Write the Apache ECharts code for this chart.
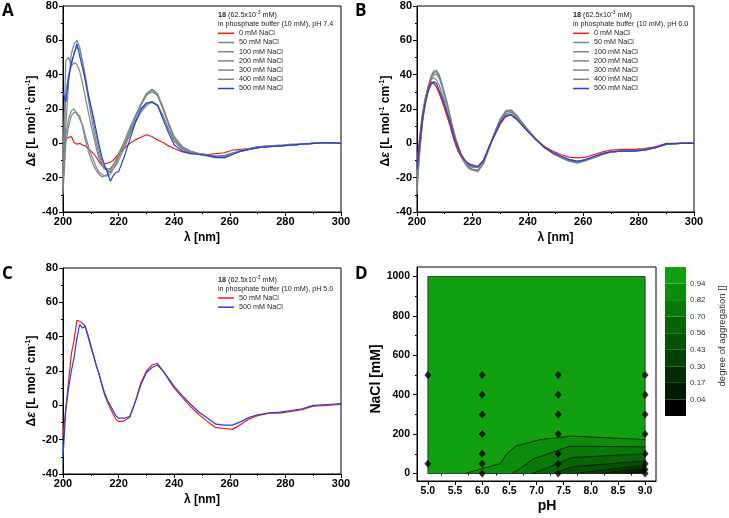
<!DOCTYPE html>
<html><head><meta charset="utf-8">
<script src="https://cdn.jsdelivr.net/npm/echarts@6/dist/echarts.min.js"></script>
<style>html,body{margin:0;padding:0;background:#fff}#c{width:729px;height:518px}</style>
</head><body><div id="c"></div>
<script>
// ---------- DATA ----------
const lambda = [200,201,202,203,204,205,206,207,208,209,210,211,212,213,214,215,216,217,218,219,220,222,224,226,228,230,232,234,236,238,240,243,246,249,252,255,258,261,264,267,270,274,278,282,286,290,295,300];

// Panel A, pH 7.4
const aRed0    = [4,2.5,3.5,4,0.5,-0.5,0,-1,-1.5,-3,-4.5,-6,-8,-11,-13,-12,-11.5,-11,-10,-8,-6,-3,0,2,3.5,5,4,2,0.5,-1.5,-3,-5,-6,-6,-6.5,-6,-5.5,-4,-3.5,-3,-2,-1.5,-1.5,-1,-0.5,0,0,0];
const aG50     = [-25,5,14,19,20,17,16,10,2,-4,-9,-13,-16,-18,-19.5,-19,-18,-16,-13,-10,-7,-1,6,13,19,23,24.5,22,16,8,1,-3.5,-5.5,-6.5,-7,-7.5,-7,-5.5,-4.5,-3.5,-2.5,-2,-1.5,-1,-0.5,0,0.5,0];
const aG100    = [-30,0,10,16,18,18,14,11,5,-1,-6,-10,-14,-17,-18,-19,-19,-18,-15,-12,-8,-1,7,15,22,28,31,28,20,11,3,-2.5,-5,-6.5,-7.5,-8.5,-8,-6,-4.5,-3.5,-2.5,-2,-1.5,-1,-0.5,0,0.5,0];
const aG200    = [-20,30,40,45,47,46,42,35,27,19,11,4,-3,-9,-13,-15,-16,-15,-13,-10,-6,1,9,16,23,29,31.5,29,21,12,4,-2,-4.5,-6,-7,-8,-7.5,-6,-4,-3,-2,-1.5,-1,-1,-0.5,0,0.5,0];
const aG300    = [-15,10,35,52,58,60,56,47,37,27,17,8,0,-7,-12,-14,-15,-14.5,-13,-10,-7,-1,7,15,22,28,30,28,20,11,3,-2.5,-5,-6,-7,-7.5,-8,-6,-4.5,-3,-2.5,-2,-1.5,-0.5,-0.5,0,0.5,0];
const aG400    = [-10,48,50,45,53,56,55,48,40,30,21,12,4,-4,-10,-14,-16,-17,-15,-13,-10,-3,5,12,18,22,24,22.5,16,8,1.5,-3,-5.5,-6.5,-7,-8,-8,-6,-4.5,-3.5,-2.5,-2,-1.5,-1,-0.5,0,0.5,0];
const aBlue500 = [30,24,38,47,52,58,51,44,37,29,22,15,7,-1,-8,-13,-17,-22,-19,-17,-16.5,-8,2,12,20,23.5,24,22,14,6,-1,-4.5,-6,-6.5,-7,-8,-8.5,-6.5,-4.5,-3.5,-2.5,-2,-1.5,-1,-0.5,0,0.5,0];

// Panel B, pH 6.0
const bRed0    = [-12,3,16,24,31,36,35,33,29,25,20,15,10,4,-1,-5,-7.5,-9.5,-11,-12,-12.5,-13.5,-10,-2,4.5,11,15.5,16.5,14,10.5,7,2,-2,-4.5,-6.5,-8,-8.5,-8,-6.5,-5,-4,-3.5,-3.5,-3,-2,0,0,0];
const bG50     = [-20,-2,14,25,33,38,41,42,39,34,28,22,15,8,2,-3,-7,-10,-12.5,-14,-15,-15.5,-11,-3,6,13,18,19,16,12,8,2.5,-2,-5.5,-8,-10,-11,-10,-8,-6.5,-5,-4.5,-4.5,-4,-2.5,-0.5,0,0];
const bG100    = [-25,-5,12,24,33,39,42,42.5,40,35,29,23,16,9,3,-2,-6.5,-10,-12.5,-14.5,-15.5,-16.5,-12,-3.5,6,14,19,19.5,16.5,12,8,2.5,-2.5,-6,-8.5,-10.5,-11.5,-10,-8.5,-6.5,-5,-4.5,-4,-4,-2.5,-0.5,0,0.5];
const bG200    = [-15,2,16,26,33,37,38,37,34,29,24,18,12,6,1,-4,-8,-10.5,-12.5,-13.5,-14,-14,-10,-2.5,6,13,17,18,15,11,7.5,2,-2,-5.5,-8,-9.5,-10.5,-9.5,-8,-6,-5,-4.5,-4.5,-3.5,-2.5,-0.5,0,0];
const bG300    = [-30,-3,13,24,32,37,40,40.5,38,33,27,21,14,8,2,-3,-7.5,-11,-13.5,-15,-15.5,-16,-11.5,-3,6,14,18.5,19,16,11.5,8,2.5,-2,-5.5,-8,-10,-11,-10,-8,-6.5,-5,-4.5,-4.5,-4,-2.5,-0.5,0,0];
const bG400    = [-12,4,18,27,32,35,35,33,30,26,21,16,10,4,-1,-5,-8,-10.5,-12,-13,-13.5,-14,-10,-2.5,5.5,12.5,16.5,17,14.5,11,7.5,2,-2,-5,-7.5,-9.5,-10.5,-9.5,-7.5,-6,-5,-4.5,-4,-4,-2.5,-0.5,0,0];
const bBlue500 = [-15,0,14,23,30,34,36,35,31,27,22,17,12,6,1,-3,-6.5,-9,-11,-12.5,-13,-13.5,-10,-2,5,12,16,16.5,14,10.5,7,2,-2.5,-5.5,-7.5,-9.5,-10.5,-9.5,-7.5,-6,-5,-4.5,-4.5,-4,-2.5,-0.5,0,0];

// Panel C, pH 5.0
const cRed50   = [-18,-2,14,30,38,49.5,49,48,46,41,35,29,23,18,12,6,2,-1.5,-5,-8,-9.5,-9,-7,2,13,20,23.5,24.5,20,15,10,4.5,-1,-5.5,-9.5,-13,-13.5,-14,-11,-8,-6,-4.5,-4.5,-3.5,-2.5,-0.5,0,0.5];
const cBlue500 = [-30,-3,10,20,28,39,47,45,46,40,34,29,23,18,12,7,3,0,-3,-6,-7.5,-7.5,-6.5,2,12,19,22,23.5,20,15.5,11,5.5,0.5,-4,-7.5,-11,-11.5,-11.5,-9.5,-7,-5.5,-4.5,-4,-3,-2,0,0.5,1];

const legendNamesAB = ['0 mM NaCl','50 mM NaCl','100 mM NaCl','200 mM NaCl','300 mM NaCl','400 mM NaCl','500 mM NaCl'];
const legendNamesC = ['50 mM NaCl','500 mM NaCl'];

// Panel D: contour lines (pH, NaCl mM), from level 0.94 downwards
const contour1 = [[5.69,0],[6.0,25],[6.33,50],[6.45,100],[6.62,140],[7.07,172],[7.4,182],[7.65,190],[9.0,172]];
const contour2 = [[6.55,0],[6.75,35],[6.95,76],[7.32,110],[7.62,139],[9.0,135]];
const contour3 = [[6.92,0],[7.32,42],[7.65,81],[9.0,101]];
const contour4 = [[7.32,0],[7.65,34],[9.0,64]];
const contour5 = [[7.68,0],[9.0,42]];
const contour6 = [[8.17,0],[9.0,30]];
const contour7 = [[8.54,0],[9.0,20]];
const contour8 = [[8.79,0],[9.0,10]];
const measuredPoints = [[5,50],[5,500],[6,0],[6,50],[6,100],[6,200],[6,300],[6,400],[6,500],[7.4,0],[7.4,50],[7.4,100],[7.4,200],[7.4,300],[7.4,400],[7.4,500],[9,0],[9,20],[9,50],[9,100],[9,200],[9,300],[9,400],[9,500]];
const phTicks = [5,5.5,6,6.5,7,7.5,8,8.5,9];
const phMinor = [5.25,5.75,6.25,6.75,7.25,7.75,8.25,8.75];
const naclTicks = [0,200,400,600,800,1000];
const naclMinor = [100,300,500,700,900];
const cbLevels = ['0.04','0.17','0.30','0.43','0.56','0.70','0.82','0.94'];
const bandColors = ['#000000','#011a01','#022d02','#034003','#055205','#066406','#087808','#0b8c0b','#10a010'];

// ---------- STYLE ----------
const FONT = 'Liberation Sans, Arial, sans-serif';
const RED = '#f01c1c', GRAY = '#7b8787', BLUE = '#2040e8';

function cdX(i, gridIndex) {
  return {gridIndex, type:'value', min:200, max:300, interval:20,
    axisLine:{onZero:false, lineStyle:{color:'#000', width:1}},
    axisTick:{length:4, lineStyle:{color:'#000'}},
    minorTick:{show:true, splitNumber:2, length:2, lineStyle:{color:'#000'}},
    splitLine:{show:false},
    axisLabel:{color:'#000', fontWeight:'bold', fontSize:11, fontFamily:FONT, margin:4},
    name:'λ [nm]', nameLocation:'middle', nameGap:20,
    nameTextStyle:{color:'#000', fontWeight:'bold', fontSize:12, fontFamily:FONT}};
}
function cdY(gridIndex, shift) {
  return {gridIndex, type:'value', min:-40, max:80, interval:20,
    axisLine:{onZero:false, lineStyle:{color:'#000', width:1}},
    axisTick:{length:4, lineStyle:{color:'#000'}},
    minorTick:{show:true, splitNumber:2, length:2, lineStyle:{color:'#000'}},
    splitLine:{show:false},
    axisLabel:{color:'#000', fontWeight:'bold', fontSize:11, fontFamily:FONT, margin:5},
    name:'Δ{it|ε} [L mol{sup|-1} cm{sup|-1}]', nameLocation:'middle', nameGap:24,
    nameTextStyle:{color:'#000', fontWeight:'bold', fontSize:12, fontFamily:FONT, lineHeight:14, padding:[0,shift,0,0],
      rich:{it:{fontStyle:'italic', fontWeight:'bold', fontSize:12, fontFamily:FONT, lineHeight:14},
            sup:{fontSize:7, fontWeight:'bold', fontFamily:FONT, verticalAlign:'top', lineHeight:14}}}};
}
function cdSeries(prefix, name, vals, color, idx) {
  return {type:'line', name: prefix + '|' + name, xAxisIndex:idx, yAxisIndex:idx,
    data: lambda.map((x,i)=>[x, vals[i]]), symbol:'none', showSymbol:false,
    lineStyle:{color, width:1.2}, itemStyle:{color}, silent:true};
}
function legendFor(prefix, names, left, top) {
  return {left, top, orient:'vertical', padding:0, itemGap:0.2, itemWidth:16, itemHeight:1.5, icon:'rect',
    data: names.map(n=>prefix+'|'+n), formatter: n=>n.split('|')[1], selectedMode:false,
    textStyle:{fontSize:7.2, lineHeight:9, color:'#222', fontFamily:FONT}};
}
function header(ph, left, top) {
  return {text:'{b|18} (62.5x10{s|-3} mM)\nin phosphate buffer (10 mM), pH ' + ph, left, top, padding:0,
    textStyle:{fontSize:7.2, lineHeight:9, color:'#222', fontWeight:'normal', fontFamily:FONT,
      rich:{b:{fontWeight:'bold', fontSize:7.2, lineHeight:9, fontFamily:FONT, color:'#222'},
            s:{fontSize:5, verticalAlign:'top', lineHeight:9, fontFamily:FONT, color:'#222'}}}};
}
function letter(t, left, top) {
  return {text:t, left, top, padding:0, textStyle:{fontFamily:'Open Sans', fontWeight:'bold', fontSize:17, color:'#000'}};
}

const series = [];
series.push(cdSeries('A','0 mM NaCl', aRed0, RED, 0));
series.push(cdSeries('A','50 mM NaCl', aG50, GRAY, 0));
series.push(cdSeries('A','100 mM NaCl', aG100, GRAY, 0));
series.push(cdSeries('A','200 mM NaCl', aG200, GRAY, 0));
series.push(cdSeries('A','300 mM NaCl', aG300, GRAY, 0));
series.push(cdSeries('A','400 mM NaCl', aG400, GRAY, 0));
series.push(cdSeries('A','500 mM NaCl', aBlue500, BLUE, 0));
series.push(cdSeries('B','50 mM NaCl', bG50, GRAY, 1));
series.push(cdSeries('B','100 mM NaCl', bG100, GRAY, 1));
series.push(cdSeries('B','200 mM NaCl', bG200, GRAY, 1));
series.push(cdSeries('B','300 mM NaCl', bG300, GRAY, 1));
series.push(cdSeries('B','400 mM NaCl', bG400, GRAY, 1));
series.push(cdSeries('B','0 mM NaCl', bRed0, RED, 1));
series.push(cdSeries('B','500 mM NaCl', bBlue500, BLUE, 1));
series.push(cdSeries('C','50 mM NaCl', cRed50, RED, 2));
series.push(cdSeries('C','500 mM NaCl', cBlue500, BLUE, 2));

// Panel D
series.push({type:'line', xAxisIndex:3, yAxisIndex:3, data:[[5,1000],[9,1000]], symbol:'none', silent:true, z:1,
  lineStyle:{width:0}, areaStyle:{color:bandColors[8], opacity:1}});
[contour1,contour2,contour3,contour4,contour5,contour6,contour7,contour8].forEach((c,k)=>{
  series.push({type:'line', xAxisIndex:3, yAxisIndex:3, data:c, symbol:'none', silent:true, z:2,
    lineStyle:{color:'#111', width:0.8}, areaStyle:{color:bandColors[7-k], opacity:1}});
});
series.push({type:'line', xAxisIndex:3, yAxisIndex:3, data:[[5,0],[5,1000],[9,1000],[9,0],[5,0]], symbol:'none', silent:true, z:3,
  lineStyle:{color:'#222', width:0.8}});
series.push({type:'scatter', xAxisIndex:3, yAxisIndex:3, data:measuredPoints, symbol:'diamond', symbolSize:[7,8], silent:true, z:10,
  clip:false, itemStyle:{color:'#000'}});
// colorbar
bandColors.forEach((col,i)=>{
  series.push({type:'bar', xAxisIndex:5, yAxisIndex:5, stack:'cb', data:[1], barWidth:'100%', silent:true, itemStyle:{color:col}});
});

const option = {
  animation:false,
  backgroundColor:'#fff',
  title:[letter('A',2,3), letter('B',355,3), letter('C',2,266), letter('D',355,266),
         header('7.4',218,10.5), header('6.0',573,10.5), header('5.0',218,275.2)],
  legend:[legendFor('A', legendNamesAB, 218, 28.8), legendFor('B', legendNamesAB, 573, 28.8), legendFor('C', legendNamesC, 218, 293.5)],
  grid:[
    {left:63, top:6, width:278, height:206, show:true, borderColor:'#000', borderWidth:1},
    {left:417, top:6, width:277, height:206, show:true, borderColor:'#000', borderWidth:1},
    {left:63, top:268, width:278, height:206, show:true, borderColor:'#000', borderWidth:1},
    {left:417, top:267, width:239, height:214, show:true, borderColor:'#000', borderWidth:1},
    {left:665, top:267, width:21, height:149}
  ],
  xAxis:[cdX(0,0), cdX(1,1), cdX(2,2),
    {gridIndex:3, type:'value', min:4.8, max:9.2,
      axisLine:{onZero:false, lineStyle:{color:'#000'}},
      axisTick:{customValues:phTicks, length:4, lineStyle:{color:'#000'}},
      axisLabel:{customValues:phTicks, formatter:v=>v.toFixed(1), fontWeight:'bold', fontSize:10.5, color:'#000', fontFamily:FONT, margin:5},
      splitLine:{show:false},
      name:'pH', nameLocation:'middle', nameGap:18,
      nameTextStyle:{color:'#000', fontWeight:'bold', fontSize:14, fontFamily:FONT, padding:[0,0,0,21]}},
    {gridIndex:3, type:'value', min:4.8, max:9.2, position:'bottom',
      axisLine:{show:false}, axisLabel:{show:false}, splitLine:{show:false},
      axisTick:{customValues:phMinor, length:2, lineStyle:{color:'#000'}}},
    {gridIndex:4, type:'category', data:['c'], show:false}
  ],
  yAxis:[cdY(0,24), cdY(1,24), cdY(2,20),
    {gridIndex:3, type:'value', min:-38, max:1048,
      axisLine:{onZero:false, lineStyle:{color:'#000'}},
      axisTick:{customValues:naclTicks, length:4, lineStyle:{color:'#000'}},
      axisLabel:{customValues:naclTicks, formatter:v=>String(v), fontWeight:'bold', fontSize:10.5, color:'#000', fontFamily:FONT, margin:7},
      splitLine:{show:false},
      name:'NaCl [mM]', nameLocation:'middle', nameGap:31,
      nameTextStyle:{color:'#000', fontWeight:'bold', fontSize:14, fontFamily:FONT, padding:[0,10,0,0]}},
    {gridIndex:3, type:'value', min:-38, max:1048, position:'left',
      axisLine:{show:false}, axisLabel:{show:false}, splitLine:{show:false},
      axisTick:{customValues:naclMinor, length:2, lineStyle:{color:'#000'}}},
    {gridIndex:4, type:'value', min:0, max:9, interval:1, position:'right',
      axisLine:{show:false}, axisTick:{show:false}, splitLine:{show:false},
      axisLabel:{formatter:v=>(v>=1&&v<=8)?cbLevels[v-1]:'', fontSize:8, color:'#333', fontFamily:FONT, margin:4},
      name:'degree of aggregation []', nameLocation:'middle', nameGap:31, nameRotate:90,
      nameTextStyle:{fontSize:9.5, color:'#333', fontFamily:FONT, padding:[0,0,0,11]}}
  ],
  series
};
const chart = echarts.init(document.getElementById('c'), null, {renderer:'canvas'});
chart.setOption(option);
</script>
</body></html>
